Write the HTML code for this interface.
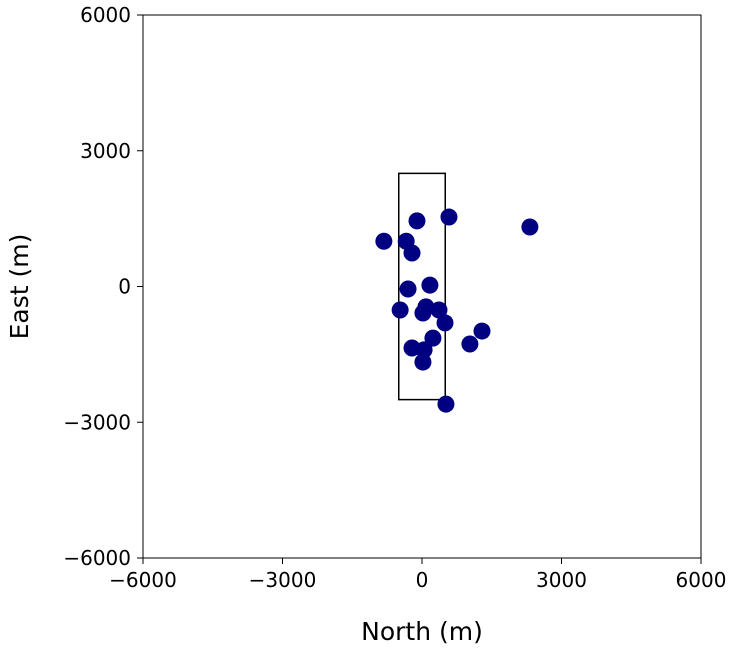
<!DOCTYPE html>
<html><head><meta charset="utf-8"><style>
body{margin:0;background:#fff;}
svg{display:block;font-family:"DejaVu Sans","Liberation Sans",sans-serif;}
</style></head><body>
<svg id="chart" width="733" height="652" viewBox="0 0 733 652">
<g id="ticks"></g>
<rect x="143" y="15" width="558" height="543" fill="none" stroke="#000" stroke-width="1"/>
<g id="marks"></g>
<text x="422" y="640" font-size="25" text-anchor="middle">North (m)</text>
<text transform="translate(28,286.5) rotate(-90)" font-size="25" text-anchor="middle">East (m)</text>
</svg>
<script>
const northVals=[-820,-340,-215,-108,580,2320,170,-300,-470,85,365,20,495,1290,235,-215,45,1030,20,515];
const eastVals=[1000,1000,740,1450,1535,1315,30,-55,-520,-450,-520,-585,-805,-985,-1140,-1360,-1400,-1270,-1670,-2600];
const xTicks=[-6000,-3000,0,3000,6000];
const yTicks=[-6000,-3000,0,3000,6000];
const boxNorth=[-500,500];
const boxEast=[-2500,2500];
const NS="http://www.w3.org/2000/svg";
const x=v=>143+(v+6000)/12000*558;
const y=v=>558-(v+6000)/12000*543;
const ticks=document.getElementById('ticks'),marks=document.getElementById('marks');
function mk(tag,attrs,parent){const e=document.createElementNS(NS,tag);for(const k in attrs)e.setAttribute(k,attrs[k]);parent.appendChild(e);return e;}
xTicks.forEach(t=>{
  const l=mk('line',{x1:x(t),x2:x(t),y1:558,y2:564,stroke:'#000'},ticks);
  
  
  const tx=mk('text',{x:x(t),y:587,'font-size':20,'text-anchor':'middle'},ticks);
  tx.textContent=t<0?'\u2212'+(-t):String(t);
  
  
});
yTicks.forEach(t=>{
  const l=mk('line',{x1:137,x2:143,y1:y(t),y2:y(t),stroke:'#000'},ticks);
  
  
  const tx=mk('text',{x:131,y:y(t)+7,'font-size':20,'text-anchor':'end'},ticks);
  tx.textContent=t<0?'\u2212'+(-t):String(t);
  
  
});
const box=mk('rect',{x:x(boxNorth[0]),y:y(boxEast[1]),width:x(boxNorth[1])-x(boxNorth[0]),height:y(boxEast[0])-y(boxEast[1]),fill:'none',stroke:'#000','stroke-width':1.5},marks);


northVals.forEach((n,i)=>{
  const c=mk('circle',{cx:x(n),cy:y(eastVals[i]),r:8.5,fill:'#000080'},marks);
  
  
});
</script>
</body></html>
